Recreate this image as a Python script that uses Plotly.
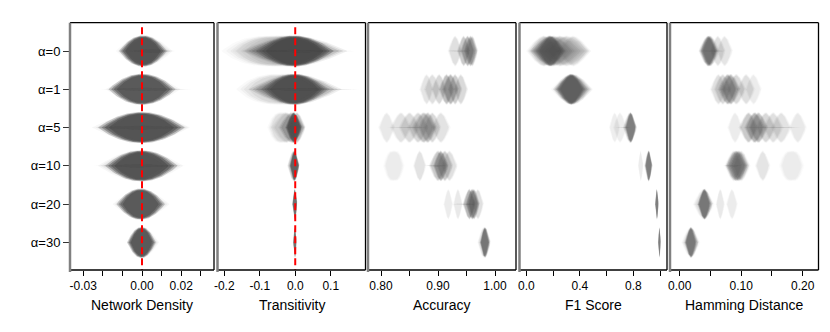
import numpy as np
import plotly.graph_objects as go

# ---------------- data ----------------
alpha_labels = ["α=0", "α=1", "α=5", "α=10", "α=20", "α=30"]
row_pos = [0, 1, 2, 3, 4, 5]
panel_titles = ["Network Density", "Transitivity", "Accuracy", "F1 Score", "Hamming Distance"]

# components of each row: (centre, half-width, opacity[, height scale[, shape exponent]])
density_rows = [
    [(0.0005, 0.0112, 0.85, 1, 2.1), (0.002, 0.0125, 0.15), (-0.0005, 0.0118, 0.12), (0.005, 0.0115, 0.1, 0.12)],
    [(0.0, 0.0157, 0.85, 1, 2.1), (0.0005, 0.0175, 0.15), (0.002, 0.022, 0.1, 0.1)],
    [(-0.0003, 0.0203, 0.85, 1, 2.1), (-0.001, 0.0225, 0.15), (0.001, 0.0215, 0.15), (-0.0008, 0.0232, 0.1, 0.12)],
    [(-0.0003, 0.0169, 0.85, 1, 2.1), (0.001, 0.0185, 0.15), (-0.003, 0.018, 0.15), (-0.0018, 0.0225, 0.1, 0.1)],
    [(-0.0007, 0.0113, 0.85, 1, 2.1), (-0.0005, 0.0133, 0.15)],
    [(-0.0003, 0.0067, 0.85, 1, 2.1), (0.0005, 0.0075, 0.15)],
]
transitivity_rows = [
    [(-0.002, 0.10, 0.75, 1, 2.0), (0.0, 0.135, 0.3), (-0.02, 0.12, 0.2), (-0.05, 0.145, 0.1, 1, 3),
     (-0.035, 0.13, 0.1, 1, 3), (0.01, 0.158, 0.1, 0.08)],
    [(-0.002, 0.085, 0.75, 1, 2.0), (0.0, 0.12, 0.3), (-0.03, 0.125, 0.12, 1, 3), (-0.02, 0.10, 0.15),
     (0.015, 0.158, 0.1, 0.08)],
    [(-0.004, 0.022, 0.75), (-0.01, 0.035, 0.25), (-0.035, 0.04, 0.1, 1, 3), (-0.025, 0.04, 0.1),
     (0.005, 0.023, 0.2)],
    [(-0.002, 0.013, 0.7), (-0.005, 0.016, 0.2)],
    [(-0.001, 0.0068, 0.7)],
    [(-0.0008, 0.0048, 0.7)],
]
accuracy_rows = [
    [(0.93, 0.012, 0.1), (0.945, 0.011, 0.18), (0.952, 0.012, 0.25), (0.957, 0.011, 0.25),
     (0.96, 0.010, 0.15), (0.935, 0.02, 0.1, 0.05)],
    [(0.88, 0.012, 0.08), (0.89, 0.014, 0.1), (0.902, 0.013, 0.13), (0.915, 0.013, 0.22),
     (0.922, 0.014, 0.25), (0.93, 0.012, 0.17), (0.94, 0.012, 0.12)],
    [(0.81, 0.014, 0.07), (0.835, 0.018, 0.09), (0.85, 0.018, 0.11), (0.865, 0.018, 0.13),
     (0.875, 0.02, 0.2), (0.882, 0.016, 0.2), (0.89, 0.015, 0.13), (0.905, 0.016, 0.09),
     (0.845, 0.035, 0.12, 0.04)],
    [(0.8225, 0.0175, 0.06, 1, 3), (0.868, 0.011, 0.09), (0.905, 0.013, 0.3), (0.90, 0.015, 0.18),
     (0.912, 0.014, 0.18), (0.92, 0.014, 0.1), (0.895, 0.02, 0.1, 0.05)],
    [(0.918, 0.008, 0.06), (0.935, 0.008, 0.07), (0.955, 0.011, 0.25), (0.96, 0.011, 0.32),
     (0.963, 0.010, 0.25), (0.97, 0.010, 0.1), (0.945, 0.02, 0.1, 0.04)],
    [(0.982, 0.008, 0.35), (0.983, 0.009, 0.22), (0.98, 0.010, 0.1)],
]
f1_rows = [
    [(0.18, 0.10, 0.4), (0.17, 0.13, 0.28), (0.20, 0.16, 0.2), (0.25, 0.17, 0.15),
     (0.30, 0.17, 0.12), (0.13, 0.12, 0.15), (0.35, 0.12, 0.1)],
    [(0.335, 0.10, 0.42), (0.33, 0.12, 0.28), (0.35, 0.13, 0.18), (0.34, 0.145, 0.12)],
    [(0.78, 0.04, 0.42), (0.775, 0.05, 0.18), (0.70, 0.05, 0.05), (0.66, 0.04, 0.05),
     (0.72, 0.06, 0.1, 0.04)],
    [(0.915, 0.025, 0.42), (0.913, 0.03, 0.18), (0.855, 0.02, 0.06)],
    [(0.976, 0.012, 0.45), (0.976, 0.014, 0.15)],
    [(0.995, 0.009, 0.45), (0.995, 0.011, 0.15)],
]
hamming_rows = [
    [(0.046, 0.014, 0.3), (0.048, 0.013, 0.25), (0.05, 0.014, 0.18), (0.073, 0.013, 0.08),
     (0.062, 0.012, 0.1), (0.055, 0.02, 0.1, 0.04)],
    [(0.07, 0.014, 0.13), (0.078, 0.015, 0.25), (0.083, 0.015, 0.25), (0.092, 0.015, 0.13),
     (0.108, 0.014, 0.1), (0.12, 0.013, 0.06), (0.063, 0.013, 0.1)],
    [(0.09, 0.012, 0.06), (0.112, 0.015, 0.18), (0.122, 0.016, 0.25), (0.128, 0.015, 0.22),
     (0.14, 0.016, 0.13), (0.152, 0.016, 0.1), (0.165, 0.016, 0.09), (0.192, 0.014, 0.07),
     (0.15, 0.05, 0.12, 0.04)],
    [(0.092, 0.016, 0.3), (0.096, 0.015, 0.25), (0.10, 0.014, 0.13), (0.088, 0.014, 0.13),
     (0.135, 0.012, 0.08), (0.182, 0.019, 0.06, 1, 3), (0.085, 0.015, 0.1, 0.04)],
    [(0.04, 0.010, 0.38), (0.041, 0.012, 0.2), (0.039, 0.016, 0.1), (0.066, 0.007, 0.07),
     (0.085, 0.009, 0.06)],
    [(0.018, 0.009, 0.35), (0.019, 0.011, 0.2), (0.018, 0.014, 0.1)],
]
panel_rows = [density_rows, transitivity_rows, accuracy_rows, f1_rows, hamming_rows]

x_ranges = [[-0.0367, 0.0367], [-0.219, 0.198], [0.7772, 1.0368], [-0.052, 1.0515], [-0.0158, 0.2257]]
x_tickvals = [
    [-0.03, -0.02, -0.01, 0.0, 0.01, 0.02, 0.03],
    [-0.2, -0.1, 0.0, 0.1],
    [0.80, 0.85, 0.90, 0.95, 1.00],
    [0.0, 0.2, 0.4, 0.6, 0.8, 1.0],
    [0.00, 0.05, 0.10, 0.15, 0.20],
]
x_ticktext = [
    ["-0.03", "", "", "0.00", "", "0.02", ""],
    ["-0.2", "-0.1", "0.0", "0.1"],
    ["0.80", "", "0.90", "", "1.00"],
    ["0.0", "", "0.4", "", "0.8", ""],
    ["0.00", "", "0.10", "", "0.20"],
]
ref_line_x = 0.0
ref_line_panels = [0, 1]

# ---------------- layout geometry ----------------
PAGE_OFF = 8                      # default body margin of the html page
W, Hpx = 830 - 2 * PAGE_OFF, 332 - 2 * PAGE_OFF
panel_page_px = [(70, 214), (217.5, 365.5), (368, 516), (519.5, 667), (670, 818.5)]
panel_px = [(a - PAGE_OFF, b - PAGE_OFF) for a, b in panel_page_px]
top_px, bot_px = 22.7 - PAGE_OFF, 270 - PAGE_OFF
title_px = 305 - PAGE_OFF
y_dom = [(Hpx - bot_px) / Hpx, (Hpx - top_px) / Hpx]
y_range = [5.72, -0.74]
half_h = 0.39
FONT = "Liberation Sans, Arial, Helvetica, sans-serif"

# soft-edge rendering: nested copies (width scale, height scale, share of opacity)
soft_layers = [(1.09, 1.04, 0.25), (1.0, 1.0, 0.35), (0.92, 0.97, 0.45), (0.82, 0.92, 0.5)]

fig = go.Figure()


def shape_poly(c, w, hs, p):
    t = np.linspace(-1, 1, 61)
    h = half_h * hs * (1 - np.abs(t) ** p)
    xs = np.concatenate([c + w * t, (c + w * t)[::-1]])
    ys = np.concatenate([h, -h[::-1]])
    return xs, ys


for i, rows in enumerate(panel_rows):
    xa = "x" if i == 0 else f"x{i+1}"
    ya = "y" if i == 0 else f"y{i+1}"
    for r, comps in zip(row_pos, rows):
        for comp in comps:
            c, w, a = comp[0], comp[1], comp[2]
            hs = comp[3] if len(comp) > 3 else 1.0
            p = comp[4] if len(comp) > 4 else 1.6
            for ws, hsc, share in soft_layers:
                xs, ys = shape_poly(c, w * ws, hs * hsc, p)
                fig.add_trace(go.Scatter(
                    x=xs, y=ys + r, mode="lines", fill="toself",
                    fillcolor=f"rgba(72,72,72,{min(1.0, a * share * 1.15):.3f})", line=dict(width=0),
                    hoverinfo="skip", showlegend=False, xaxis=xa, yaxis=ya))
    if i in ref_line_panels:
        fig.add_trace(go.Scatter(
            x=[ref_line_x, ref_line_x], y=[-0.62, y_range[0]], mode="lines",
            line=dict(color="#ff0000", width=2, dash="7px,4px"),
            hoverinfo="skip", showlegend=False, xaxis=xa, yaxis=ya))

layout = dict(
    width=W, height=Hpx, margin=dict(l=0, r=0, t=0, b=0, autoexpand=False),
    plot_bgcolor="white", paper_bgcolor="white",
    font=dict(family=FONT, color="black", size=12),
    showlegend=False,
)
shapes = []
annotations = []
for i in range(5):
    L, R = panel_px[i]
    sx = "" if i == 0 else str(i + 1)
    layout[f"xaxis{sx}"] = dict(
        domain=[L / W, R / W], range=x_ranges[i], anchor=f"y{sx}", automargin=False,
        tickmode="array", tickvals=x_tickvals[i], ticktext=x_ticktext[i],
        ticks="outside", ticklen=5, tickwidth=1, tickcolor="black",
        showgrid=False, zeroline=False, showline=False,
        tickfont=dict(size=12, family=FONT, color="black"), fixedrange=True,
    )
    layout[f"yaxis{sx}"] = dict(
        domain=y_dom, range=y_range, anchor=f"x{sx}", automargin=False,
        tickmode="array", tickvals=row_pos, ticktext=alpha_labels,
        showticklabels=(i == 0), ticks="outside" if i == 0 else "",
        ticklen=6, tickwidth=1, tickcolor="#333333",
        showgrid=False, zeroline=False, showline=False,
        tickfont=dict(size=13, family=FONT, color="black"), fixedrange=True,
    )
    xd = f"x{sx} domain"
    yd = f"y{sx} domain"
    shapes.append(dict(type="line", xref=xd, yref=yd, x0=0, x1=1, y0=1, y1=1,
                       line=dict(color="black", width=1.3)))
    shapes.append(dict(type="line", xref=xd, yref=yd, x0=1, x1=1, y0=0, y1=1,
                       line=dict(color="black", width=1.3)))
    shapes.append(dict(type="line", xref=xd, yref=yd, x0=0, x1=1, y0=0, y1=0,
                       line=dict(color="black", width=1.3)))
    shapes.append(dict(type="line", xref=xd, yref=yd, x0=0, x1=0, y0=-0.008, y1=1,
                       line=dict(color="#808080", width=2.5)))
    annotations.append(dict(
        text=panel_titles[i], xref="paper", yref="paper",
        x=(L + R) / 2 / W, y=(Hpx - title_px) / Hpx, xanchor="center", yanchor="middle",
        showarrow=False, font=dict(size=14, family=FONT, color="black")))

layout["shapes"] = shapes
layout["annotations"] = annotations
fig.update_layout(**layout)
fig.write_html("out.html")
